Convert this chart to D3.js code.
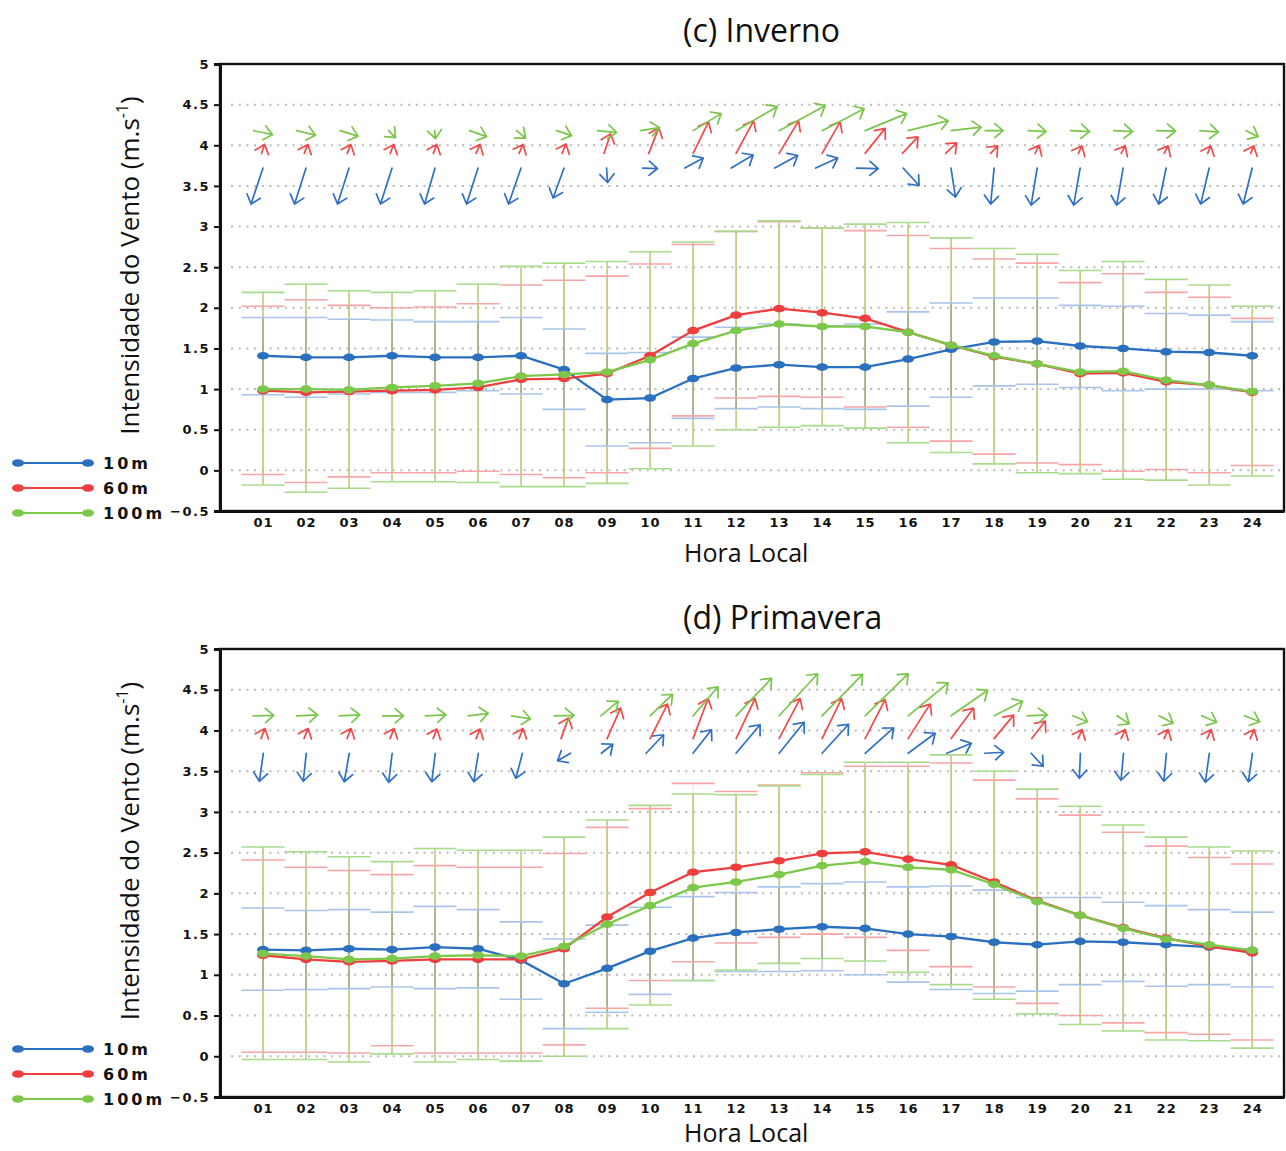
<!DOCTYPE html>
<html><head><meta charset="utf-8">
<script src="https://cdn.jsdelivr.net/npm/d3@7"></script>
<style>body{margin:0;background:#fff} svg{display:block}</style>
</head><body>
<svg id="c" width="1286" height="1151"></svg>
<script>
// ---------- DATA ----------
const hours = ["01","02","03","04","05","06","07","08","09","10","11","12","13","14","15","16","17","18","19","20","21","22","23","24"];
const levels = ["10m","60m","100m"];
const yTickValues = [-0.5,0,0.5,1,1.5,2,2.5,3,3.5,4,4.5,5];
const yTickLabels = ["\u22120.5","0","0.5","1","1.5","2","2.5","3","3.5","4","4.5","5"];
const gridValues = [0,0.5,1,1.5,2,2.5,3,3.5,4,4.5];
const panelTitles = ["(c) Inverno","(d) Primavera"];
const xLabel = "Hora Local";
const yLabel = "Intensidade do Vento (m.s";
const yLabelSup = "-1";
const vectorRows = [3.72, 3.90, 4.18]; // y level of the wind vectors for 10m, 60m, 100m

// Inverno - mean wind speed
const inv10  = [1.41,1.39,1.39,1.41,1.39,1.39,1.41,1.24,0.87,0.89,1.13,1.26,1.30,1.27,1.27,1.37,1.49,1.58,1.59,1.53,1.50,1.46,1.45,1.41];
const inv60  = [0.98,0.96,0.97,0.98,0.99,1.02,1.12,1.13,1.19,1.41,1.72,1.91,1.99,1.94,1.87,1.70,1.54,1.40,1.31,1.19,1.20,1.09,1.05,0.96];
const inv100 = [1.00,1.00,0.99,1.02,1.04,1.07,1.16,1.18,1.21,1.36,1.56,1.72,1.80,1.77,1.77,1.70,1.54,1.41,1.31,1.21,1.22,1.11,1.05,0.97];
// Inverno - upper / lower limits
const inv10Hi  = [1.88,1.88,1.86,1.85,1.83,1.83,1.88,1.74,1.44,1.45,1.64,1.76,1.80,1.78,1.80,1.95,2.06,2.12,2.12,2.03,2.02,1.93,1.91,1.83];
const inv10Lo  = [0.93,0.90,0.94,0.96,0.96,0.98,0.94,0.75,0.30,0.34,0.64,0.76,0.78,0.76,0.75,0.79,0.90,1.04,1.06,1.02,0.98,1.00,1.00,0.98];
const inv60Hi  = [2.02,2.10,2.03,2.00,2.01,2.05,2.28,2.34,2.39,2.54,2.78,2.94,3.06,2.98,2.95,2.89,2.73,2.60,2.55,2.31,2.42,2.19,2.13,1.87];
const inv60Lo  = [-0.05,-0.15,-0.08,-0.03,-0.03,-0.01,-0.05,-0.09,-0.03,0.27,0.67,0.89,0.91,0.90,0.78,0.53,0.36,0.20,0.09,0.07,-0.01,0.01,-0.03,0.06];
const inv100Hi = [2.19,2.29,2.21,2.19,2.21,2.29,2.51,2.55,2.57,2.69,2.81,2.94,3.07,2.98,3.03,3.05,2.86,2.73,2.66,2.46,2.57,2.35,2.28,2.02];
const inv100Lo = [-0.18,-0.27,-0.22,-0.14,-0.14,-0.15,-0.20,-0.20,-0.16,0.02,0.30,0.50,0.53,0.55,0.52,0.34,0.22,0.08,-0.03,-0.04,-0.11,-0.12,-0.18,-0.07];
// Inverno - wind vector components
const inv10U  = [-1.2,-1.15,-1.15,-1.15,-1.05,-1.15,-1.25,-1.1,0.1,1.5,1.85,2.2,2.3,2.2,2.2,1.6,0.45,-0.35,-0.6,-0.65,-0.65,-0.75,-0.85,-0.9];
const inv10V  = [-3.6,-3.6,-3.6,-3.6,-3.6,-3.6,-3.6,-3.0,-1.45,-0.05,1.0,1.3,1.25,1.0,-0.05,-1.75,-2.9,-3.6,-3.7,-3.7,-3.7,-3.6,-3.6,-3.6];
const inv60U  = [0.3,0.35,0.35,0.35,0.35,0.4,0.4,0.4,0.65,1.0,1.55,1.75,1.95,1.8,2.0,1.55,1.1,0.7,0.4,0.35,0.4,0.4,0.3,0.3];
const inv60V  = [0.9,0.9,0.9,0.9,0.9,0.9,0.9,0.95,1.95,2.55,3.15,3.25,3.25,3.15,2.5,1.65,1.05,0.75,0.8,0.75,0.75,0.75,0.75,0.75];
const inv100U = [1.9,1.9,1.8,0.7,0.1,1.7,0.9,1.5,1.9,1.9,2.8,4.1,4.6,4.2,4.15,4.0,3.0,1.8,1.8,1.9,1.9,1.9,1.85,1.2];
const inv100V = [-0.4,-0.45,-0.55,-0.7,-0.8,-0.6,-0.75,-0.5,-0.2,0.3,1.7,2.4,2.5,2.2,1.7,1.0,0.35,0.0,-0.1,-0.1,-0.1,-0.05,-0.15,-0.6];

// Primavera - mean wind speed
const pri10  = [1.31,1.30,1.32,1.31,1.34,1.32,1.18,0.89,1.08,1.29,1.45,1.52,1.56,1.59,1.57,1.50,1.47,1.40,1.37,1.41,1.40,1.37,1.34,1.30];
const pri60  = [1.24,1.19,1.16,1.17,1.19,1.19,1.19,1.32,1.71,2.01,2.26,2.32,2.40,2.49,2.51,2.42,2.35,2.14,1.91,1.73,1.58,1.45,1.35,1.27];
const pri100 = [1.26,1.23,1.19,1.20,1.23,1.24,1.23,1.35,1.62,1.85,2.07,2.14,2.23,2.34,2.39,2.32,2.29,2.11,1.90,1.73,1.57,1.44,1.37,1.30];
// Primavera - upper / lower limits
const pri10Hi  = [1.82,1.79,1.80,1.77,1.84,1.80,1.65,1.44,1.61,1.83,1.96,2.01,2.08,2.12,2.14,2.08,2.09,2.04,1.95,1.95,1.89,1.85,1.80,1.77];
const pri10Lo  = [0.81,0.82,0.83,0.85,0.83,0.84,0.70,0.34,0.54,0.76,0.93,1.04,1.04,1.05,1.00,0.91,0.82,0.77,0.80,0.88,0.92,0.86,0.88,0.85];
const pri60Hi  = [2.41,2.32,2.28,2.23,2.34,2.32,2.32,2.49,2.81,3.04,3.35,3.25,3.33,3.48,3.56,3.56,3.60,3.39,3.16,2.96,2.75,2.58,2.44,2.36];
const pri60Lo  = [0.05,0.05,0.04,0.13,0.04,0.04,0.04,0.14,0.59,0.93,1.16,1.39,1.46,1.50,1.46,1.30,1.10,0.85,0.65,0.50,0.41,0.29,0.27,0.20];
const pri100Hi = [2.57,2.51,2.45,2.39,2.55,2.53,2.53,2.69,2.90,3.08,3.22,3.21,3.32,3.46,3.61,3.61,3.70,3.50,3.28,3.07,2.84,2.69,2.57,2.52];
const pri100Lo = [-0.04,-0.04,-0.07,0.03,-0.07,-0.04,-0.06,0.00,0.34,0.63,0.93,1.06,1.14,1.20,1.17,1.03,0.88,0.70,0.52,0.39,0.31,0.20,0.19,0.10];
// Primavera - wind vector components
const pri10U  = [-0.4,-0.3,-0.5,-0.35,-0.35,-0.45,-0.65,-1.3,1.15,1.75,1.85,2.4,2.5,2.65,2.85,2.7,2.45,1.9,1.2,-0.1,-0.25,-0.25,-0.4,-0.4];
const pri10V  = [-2.8,-2.8,-2.85,-2.9,-2.85,-2.85,-2.5,-0.75,0.9,1.85,2.35,2.85,3.1,2.9,2.55,2.0,1.0,0.1,-1.3,-2.5,-2.7,-2.8,-2.9,-2.85];
const pri60U  = [0.4,0.4,0.4,0.4,0.4,0.4,0.4,0.75,1.35,1.75,1.5,1.9,2.1,1.95,2.0,2.2,2.25,1.95,1.35,0.4,0.4,0.4,0.4,0.4];
const pri60V  = [1.0,1.0,1.0,1.0,0.95,0.95,1.0,2.05,3.05,3.45,4.0,4.0,4.0,4.0,3.9,3.45,3.05,2.35,1.75,0.9,0.9,0.9,0.9,0.9];
const pri100U = [2.05,2.1,2.05,2.1,2.05,2.0,1.9,2.0,1.75,2.25,2.5,3.55,3.85,4.05,4.3,4.0,3.65,2.85,2.0,1.5,1.2,1.4,1.5,1.5];
const pri100V = [0.05,0.1,0.1,0.0,0.1,0.25,-0.3,0.05,1.45,2.15,2.9,3.75,4.2,4.15,4.2,3.3,2.55,1.45,0.1,-0.6,-0.8,-0.75,-0.65,-0.6];

// ---------- STYLE ----------
const lineColors  = ["#2b6fbf","#ef3e3e","#7cc84a"];
const lightColors = ["#a9c4e8","#f6a6a6","#a9db8d"];
const arrowColors = ["#2f70c2","#f04a4a","#79c64b"];
const tickFont = "'DejaVu Sans', sans-serif";
const textFont = "'Open Sans', 'Noto Sans', sans-serif";
const VEC_PX = 10; // pixels per vector unit

const panels = [
  {title: panelTitles[0], top: 64, bottom: 511, titleY: 42, xlabY: 562, legendY: 463,
   means: [inv10, inv60, inv100], hi: [inv10Hi, inv60Hi, inv100Hi], lo: [inv10Lo, inv60Lo, inv100Lo],
   u: [inv10U, inv60U, inv100U], v: [inv10V, inv60V, inv100V]},
  {title: panelTitles[1], top: 649, bottom: 1097, titleY: 629, xlabY: 1142, legendY: 1049,
   means: [pri10, pri60, pri100], hi: [pri10Hi, pri60Hi, pri100Hi], lo: [pri10Lo, pri60Lo, pri100Lo],
   u: [pri10U, pri60U, pri100U], v: [pri10V, pri60V, pri100V]}
];

const svg = d3.select("#c");
const x = d3.scaleLinear().domain([0, 24.74]).range([220, 1284]);
const hourNums = hours.map((h, i) => i + 1);

function arrowPath(x0, y0, dx, dy) {
  const x1 = x0 + dx, y1 = y0 + dy;
  const a = Math.atan2(dy, dx);
  const hl = 11, ha = 40 * Math.PI / 180;
  const p = d3.path();
  p.moveTo(x0, y0); p.lineTo(x1, y1);
  p.moveTo(x1 + hl * Math.cos(a + Math.PI - ha), y1 + hl * Math.sin(a + Math.PI - ha));
  p.lineTo(x1, y1);
  p.lineTo(x1 + hl * Math.cos(a + Math.PI + ha), y1 + hl * Math.sin(a + Math.PI + ha));
  return p.toString();
}

panels.forEach(P => {
  const g = svg.append("g");
  const y = d3.scaleLinear().domain([-0.5, 5]).range([P.bottom, P.top]);

  // dotted grid
  g.append("g").selectAll("line").data(gridValues).join("line")
    .attr("x1", x(0) + 11).attr("x2", x.range()[1]).attr("y1", d => y(d)).attr("y2", d => y(d))
    .attr("stroke", "#b9b9b9").attr("stroke-width", 2).attr("stroke-dasharray", "2,5.7");

  // vertical error lines
  const eb = g.append("g");
  eb.selectAll("line.vg").data(hourNums).join("line").attr("class","vg")
    .attr("x1", d => x(d)).attr("x2", d => x(d))
    .attr("y1", (d, i) => y(P.hi[2][i])).attr("y2", (d, i) => y(P.lo[2][i]))
    .attr("stroke", "#c3c97f").attr("stroke-width", 1.6);
  eb.selectAll("line.vr").data(hourNums).join("line").attr("class","vr")
    .attr("x1", d => x(d)).attr("x2", d => x(d))
    .attr("y1", (d, i) => y(P.hi[1][i])).attr("y2", (d, i) => y(P.lo[1][i]))
    .attr("stroke", "#d9b070").attr("stroke-width", 1.6).attr("opacity", 0.25);
  eb.selectAll("line.vb").data(hourNums).join("line").attr("class","vb")
    .attr("x1", d => x(d)).attr("x2", d => x(d))
    .attr("y1", (d, i) => y(P.hi[0][i])).attr("y2", (d, i) => y(P.lo[0][i]))
    .attr("stroke", "#6f8e9c").attr("stroke-width", 1.6).attr("opacity", 0.45);

  // horizontal limit segments
  [0, 1, 2].forEach(s => {
    [P.hi[s], P.lo[s]].forEach(arr => {
      eb.append("g").selectAll("line").data(hourNums).join("line")
        .attr("x1", d => x(d - 0.5)).attr("x2", d => x(d + 0.5))
        .attr("y1", (d, i) => y(arr[i])).attr("y2", (d, i) => y(arr[i]))
        .attr("stroke", lightColors[s]).attr("stroke-width", 1.6);
    });
  });

  // series lines + markers
  [0, 1, 2].forEach(s => {
    const data = P.means[s].map((v, i) => [hourNums[i], v]);
    g.append("path").datum(data)
      .attr("d", d3.line().x(d => x(d[0])).y(d => y(d[1])))
      .attr("fill", "none").attr("stroke", lineColors[s]).attr("stroke-width", 2.3);
    g.append("g").selectAll("ellipse").data(data).join("ellipse")
      .attr("cx", d => x(d[0])).attr("cy", d => y(d[1])).attr("rx", 6).attr("ry", 3.8)
      .attr("fill", lineColors[s]);
  });

  // wind vectors
  [0, 1, 2].forEach(s => {
    g.append("g").selectAll("path").data(hourNums).join("path")
      .attr("d", (d, i) => {
        const dx = P.u[s][i] * VEC_PX, dy = -P.v[s][i] * VEC_PX;
        const L = Math.hypot(dx, dy);
        const f = 0.5 * Math.max(0, Math.min(1, (30 - L) / 10));
        return arrowPath(x(d) - f * dx, y(vectorRows[s]), dx, dy);
      })
      .attr("fill", "none").attr("stroke", arrowColors[s]).attr("stroke-width", 1.7)
      .attr("stroke-linecap", "round").attr("stroke-linejoin", "round");
  });

  // frame
  g.append("rect").attr("x", x(0)).attr("y", P.top).attr("width", x.range()[1] - x(0)).attr("height", P.bottom - P.top)
    .attr("fill", "none").attr("stroke", "#111").attr("stroke-width", 2.4);

  // y axis
  const ya = g.append("g").attr("transform", `translate(${x(0)},0)`)
    .call(d3.axisLeft(y).tickValues(yTickValues).tickFormat((d, i) => yTickLabels[i]).tickSize(6).tickPadding(4));
  ya.select(".domain").attr("stroke", "#111").attr("stroke-width", 3);
  ya.selectAll(".tick line").attr("stroke", "#111").attr("stroke-width", 2);
  ya.selectAll(".tick text").attr("font-family", tickFont).attr("font-weight", "bold")
    .attr("font-size", 13).attr("letter-spacing", "1.5px").attr("fill", "#111");

  // x axis
  const xa = g.append("g").attr("transform", `translate(0,${P.bottom})`)
    .call(d3.axisBottom(x).tickValues(hourNums).tickFormat((d, i) => hours[i]).tickSize(0).tickPadding(7));
  xa.select(".domain").attr("stroke", "#111").attr("stroke-width", 3);
  xa.selectAll(".tick text").attr("font-family", tickFont).attr("font-weight", "bold")
    .attr("font-size", 13).attr("letter-spacing", "1px").attr("fill", "#111");

  // title
  g.append("text").attr("x", 683).attr("y", P.titleY).text(P.title)
    .attr("font-family", textFont).attr("font-size", 32).attr("fill", "#111");
  // x label
  g.append("text").attr("x", 684).attr("y", P.xlabY).text(xLabel)
    .attr("font-family", textFont).attr("font-size", 25).attr("fill", "#111");
  // y label
  const yc = (P.top + P.bottom) / 2 - 22;
  const yl = g.append("text").attr("transform", `translate(139,${yc}) rotate(-90)`)
    .attr("text-anchor", "middle").attr("font-family", textFont).attr("font-size", 26).attr("fill", "#111");
  yl.append("tspan").text(yLabel);
  yl.append("tspan").text(yLabelSup).attr("font-size", 16).attr("dy", -11);
  yl.append("tspan").text(")").attr("dy", 11);

  // legend
  const lg = g.append("g");
  levels.forEach((name, s) => {
    const ly = P.legendY + s * 25;
    lg.append("line").attr("x1", 18).attr("x2", 88).attr("y1", ly).attr("y2", ly)
      .attr("stroke", lineColors[s]).attr("stroke-width", 2);
    [18, 88].forEach(cx => lg.append("ellipse").attr("cx", cx).attr("cy", ly).attr("rx", 6).attr("ry", 3.8).attr("fill", lineColors[s]));
    lg.append("text").attr("x", 103).attr("y", ly + 6).text(name)
      .attr("font-family", tickFont).attr("font-weight", "bold").attr("font-size", 16)
      .attr("letter-spacing", "3px").attr("fill", "#111");
  });
});
</script>
</body></html>
